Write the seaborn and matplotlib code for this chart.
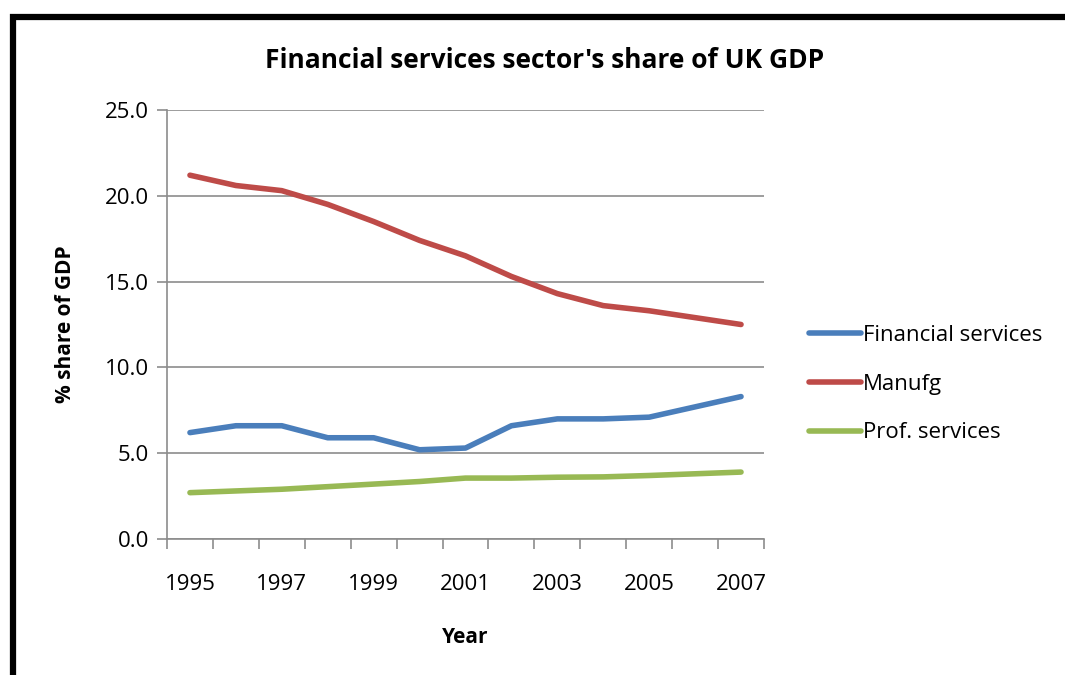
import numpy as np
import pandas as pd
import matplotlib
matplotlib.use("Agg")
import matplotlib.pyplot as plt
import seaborn as sns
from matplotlib.patches import Rectangle
from matplotlib.lines import Line2D

years = [1995, 1996, 1997, 1998, 1999, 2000, 2001, 2002, 2003, 2004, 2005, 2006, 2007]
financial = [6.2, 6.6, 6.6, 5.9, 5.9, 5.2, 5.3, 6.6, 7.0, 7.0, 7.1, 7.7, 8.3]
manufg = [21.2, 20.6, 20.3, 19.5, 18.5, 17.4, 16.5, 15.3, 14.3, 13.6, 13.3, 12.9, 12.5]
prof = [2.7, 2.8, 2.9, 3.05, 3.2, 3.35, 3.55, 3.55, 3.6, 3.62, 3.7, 3.8, 3.9]
series_names = ["Financial services", "Manufg", "Prof. services"]
colors = ["#4A7EBB", "#BE4B48", "#98B954"]
yticks = [0.0, 5.0, 10.0, 15.0, 20.0, 25.0]

sns.set_theme(style="white")
plt.rcParams['font.family'] = ['Open Sans', 'DejaVu Sans']
plt.rcParams['text.color'] = 'black'
plt.rcParams['axes.labelcolor'] = 'black'
plt.rcParams['xtick.color'] = 'black'
plt.rcParams['ytick.color'] = 'black'

rows = []
for name, vals in zip(series_names, [financial, manufg, prof]):
    for i, (y, v) in enumerate(zip(years, vals)):
        rows.append({"pos": i, "year": y, "value": v, "series": name})
df = pd.DataFrame(rows)

fig = plt.figure(figsize=(10.65, 6.75), dpi=100)
ax = fig.add_axes([167/1065, 1-539/675, (764-167)/1065, (539-110)/675])

sns.lineplot(data=df, x="pos", y="value", hue="series", hue_order=series_names,
             palette=colors, linewidth=4.0, ax=ax, legend=False,
             solid_capstyle="round", solid_joinstyle="round")

ax.set_xlim(-0.5, len(years) - 0.5)
ax.set_ylim(0, 25)
ax.set_yticks(yticks)
ax.set_yticklabels([f"{t:.1f}" for t in yticks], fontsize=16)
ax.yaxis.grid(True, color="#8c8c8c", linewidth=1.2)
ax.xaxis.grid(False)

ax.set_xticks(np.arange(-0.5, len(years), 1.0))
ax.set_xticklabels([])
ax.set_xticks(np.arange(0, len(years), 2), minor=True)
ax.set_xticklabels([str(years[i]) for i in range(0, len(years), 2)], minor=True, fontsize=16)
ax.tick_params(axis="x", which="major", direction="out", length=7, width=1.2, color="#8c8c8c", bottom=True)
ax.tick_params(axis="x", which="minor", length=0, pad=25, labelcolor="black")
ax.tick_params(axis="y", direction="out", length=7, width=1.2, color="#8c8c8c", left=True, pad=6,
               labelcolor="black")

for side in ["top", "right"]:
    ax.spines[side].set_visible(False)
for side in ["left", "bottom"]:
    ax.spines[side].set_color("#8c8c8c")
    ax.spines[side].set_linewidth(1.2)

ax.set_xlabel("Year", fontsize=15, fontweight="bold", labelpad=23, color="black")
ax.set_ylabel("% share of GDP", fontsize=15, fontweight="bold", labelpad=21, color="black")

fig.text(545/1065, 1-60/675, "Financial services sector's share of UK GDP",
         ha="center", va="center", fontsize=19, fontweight="bold", color="black")

handles = [Line2D([0], [0], color=c, linewidth=4.0, solid_capstyle="round") for c in colors]
fig.legend(handles, series_names, loc="upper left", bbox_to_anchor=(800/1065, 1-316/675),
           frameon=False, fontsize=16, handlelength=2.35, handletextpad=0.1, labelspacing=1.25,
           borderaxespad=0, labelcolor="black")

fig.add_artist(Rectangle((13/1065, -0.05), 1.2, (1-17/675) + 0.05, transform=fig.transFigure,
                         fill=False, edgecolor="black", linewidth=4.5))

fig.savefig("out.png", dpi=100)
